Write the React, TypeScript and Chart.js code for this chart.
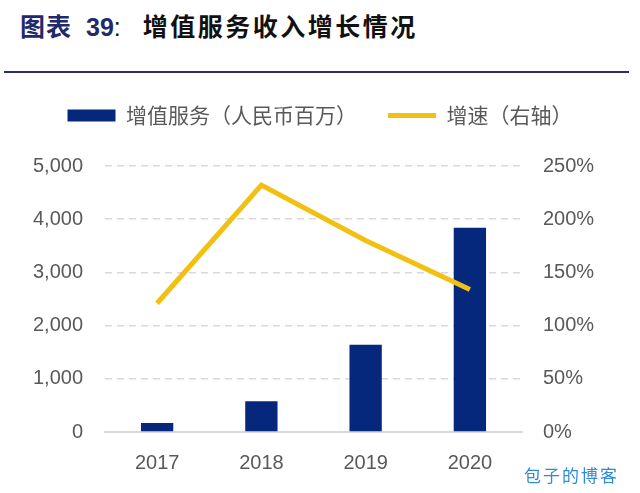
import React, { useEffect, useRef } from "react";
import { Chart, registerables } from "chart.js";

Chart.register(...registerables);

const categories = ["2017", "2018", "2019", "2020"];
const vasRevenue = [170, 580, 1640, 3840];
const growthRate = [121, 232, 180, 134];
const leftTicks = [0, 1000, 2000, 3000, 4000, 5000];
const rightTicks = [0, 50, 100, 150, 200, 250];
const barLabel = "增值服务（人民币百万）";
const lineLabel = "增速（右轴）";

const BAR_COLOR = "#06287c";
const LINE_COLOR = "#f2c012";
const TICK_COLOR = "#595959";
const GRID_COLOR = "#d9d9d9";
const TICK_FONT = { family: "'Liberation Sans', Arial, sans-serif", size: 20 };

const legendSpacer = {
  id: "legendSpacer",
  beforeLayout(chart: any) {
    const lg = chart.legend;
    if (lg && !lg._spacerPatched) {
      const orig = lg.fit.bind(lg);
      lg.fit = function () {
        orig();
        this.height += 30;
      };
      lg._spacerPatched = true;
    }
  },
};

export default function App() {
  const ref = useRef<HTMLCanvasElement | null>(null);

  useEffect(() => {
    document.body.style.margin = "0";
    const canvas = ref.current;
    if (!canvas) return;
    const chart = new Chart(canvas, {
      type: "bar",
      data: {
        labels: categories,
        datasets: [
          {
            type: "bar",
            label: barLabel,
            data: vasRevenue,
            backgroundColor: BAR_COLOR,
            yAxisID: "y",
            order: 1,
            barPercentage: 0.31,
            categoryPercentage: 1,
          },
          {
            type: "line",
            label: lineLabel,
            data: growthRate,
            borderColor: LINE_COLOR,
            backgroundColor: LINE_COLOR,
            borderWidth: 5,
            pointRadius: 0,
            tension: 0,
            yAxisID: "y1",
            order: 0,
          },
        ],
      },
      plugins: [legendSpacer],
      options: {
        animation: false,
        responsive: false,
        maintainAspectRatio: false,
        layout: { padding: { top: -6, left: 0, right: 0, bottom: 0 } },
        plugins: {
          tooltip: { enabled: false },
          legend: {
            position: "top",
            labels: {
              usePointStyle: true,
              pointStyleWidth: 48,
              boxWidth: 48,
              boxHeight: 12,
              padding: 31,
              color: TICK_COLOR,
              font: { family: "'Noto Sans CJK SC', sans-serif", size: 21 },
              generateLabels: () => [
                {
                  text: barLabel,
                  fillStyle: BAR_COLOR,
                  strokeStyle: BAR_COLOR,
                  lineWidth: 0,
                  pointStyle: "rect",
                  datasetIndex: 0,
                  hidden: false,
                  fontColor: TICK_COLOR,
                } as any,
                {
                  text: lineLabel,
                  fillStyle: LINE_COLOR,
                  strokeStyle: LINE_COLOR,
                  lineWidth: 5,
                  pointStyle: "line",
                  datasetIndex: 1,
                  hidden: false,
                  fontColor: TICK_COLOR,
                } as any,
              ],
            },
          },
        },
        scales: {
          x: {
            grid: { display: false },
            border: { display: true, color: GRID_COLOR, width: 2 },
            ticks: {
              color: TICK_COLOR,
              padding: 11,
              font: TICK_FONT,
            },
            afterFit: (s: any) => {
              s.height = 61;
            },
          },
          y: {
            position: "left",
            min: 0,
            max: 5000,
            afterBuildTicks: (s: any) => {
              s.ticks = leftTicks.map((v) => ({ value: v }));
            },
            border: { display: false, dash: [7, 5] },
            grid: {
              drawTicks: false,
              color: (c: any) => (c.tick && c.tick.value === 0 ? "rgba(0,0,0,0)" : GRID_COLOR),
              lineWidth: 1.5,
            },
            ticks: {
              color: TICK_COLOR,
              padding: 22,
              font: TICK_FONT,
              callback: (v: any) => Number(v).toLocaleString("en-US"),
            },
            afterFit: (s: any) => {
              s.width = 105;
            },
          },
          y1: {
            position: "right",
            min: 0,
            max: 250,
            afterBuildTicks: (s: any) => {
              s.ticks = rightTicks.map((v) => ({ value: v }));
            },
            border: { display: false },
            grid: { display: false, drawTicks: false },
            ticks: {
              color: TICK_COLOR,
              padding: 21,
              font: TICK_FONT,
              callback: (v: any) => v + "%",
            },
            afterFit: (s: any) => {
              s.width = 118;
            },
          },
        },
      },
    });
    return () => chart.destroy();
  }, []);

  return (
    <div style={{ position: "relative", width: 640, height: 493, background: "#fff", overflow: "hidden" }}>
      <div
        style={{
          position: "absolute",
          left: 20,
          top: 7,
          fontFamily: "'Noto Sans CJK SC', sans-serif",
          fontWeight: 700,
          fontSize: 25,
          color: "#111",
          whiteSpace: "nowrap",
          lineHeight: "36px",
        }}
      >
        <span style={{ color: "#1f2a6b", letterSpacing: 1 }}>图表</span>
        <span style={{ color: "#1f2a6b", fontFamily: "'Liberation Sans', Arial, sans-serif", marginLeft: 14 }}>39</span>
        <span style={{ fontFamily: "'Liberation Sans', Arial, sans-serif", fontWeight: 400 }}>:</span>
        <span style={{ marginLeft: 22, letterSpacing: 2.5 }}>增值服务收入增长情况</span>
      </div>
      <div
        style={{
          position: "absolute",
          left: 4,
          top: 71,
          width: 625,
          height: 2,
          background: "#2a2f6b",
        }}
      />
      <canvas ref={ref} width={640} height={413} style={{ position: "absolute", left: 0, top: 80, width: 640, height: 413 }} />
      <div
        style={{
          position: "absolute",
          left: 524,
          top: 462,
          fontFamily: "'Noto Sans CJK SC', sans-serif",
          fontSize: 17,
          color: "#2f8bd6",
          letterSpacing: 2,
          whiteSpace: "nowrap",
        }}
      >
        包子的博客
      </div>
    </div>
  );
}
